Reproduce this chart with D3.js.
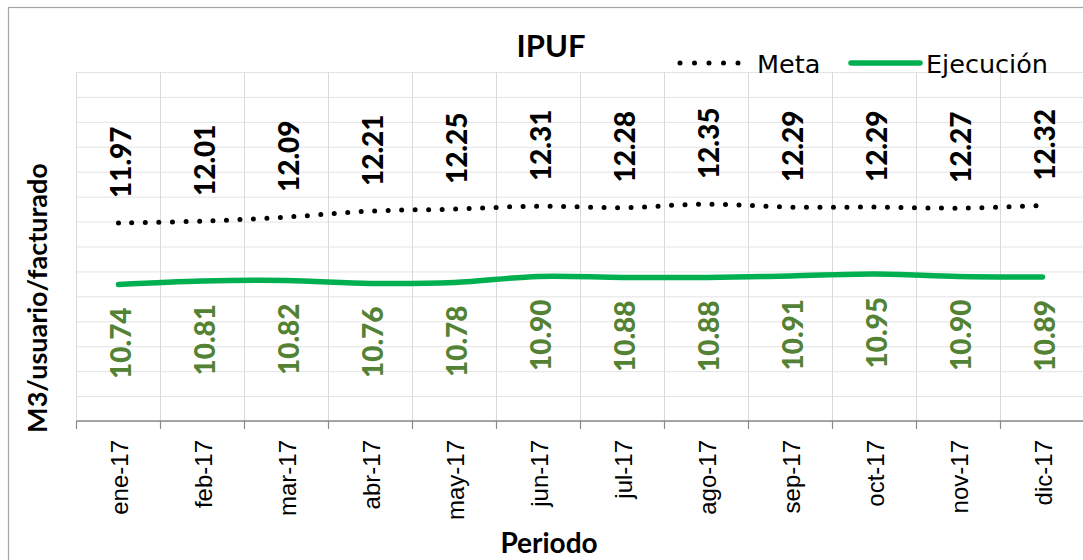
<!DOCTYPE html>
<html>
<head>
<meta charset="utf-8">
<script src="https://cdn.jsdelivr.net/npm/d3@7"></script>
<style>
  html, body { margin: 0; padding: 0; background: #fff; }
  svg { display: block; }
</style>
</head>
<body>
<svg id="chart" width="1083" height="560"></svg>
<script>
// IPUF 2017: target (Meta) vs actual (Ejecución), m3 per billed user
const months = ["ene-17", "feb-17", "mar-17", "abr-17", "may-17", "jun-17",
                "jul-17", "ago-17", "sep-17", "oct-17", "nov-17", "dic-17"];
const meta = [11.97, 12.01, 12.09, 12.21, 12.25, 12.31, 12.28, 12.35, 12.29, 12.29, 12.27, 12.32];
const ejecucion = [10.74, 10.81, 10.82, 10.76, 10.78, 10.90, 10.88, 10.88, 10.91, 10.95, 10.90, 10.89];
const yTicks = d3.range(8, 15.01, 0.5);

const svg = d3.select("#chart");
const plot = { left: 76.5, right: 1084.5, top: 72, bottom: 421 };

const x = d3.scaleBand().domain(months).range([plot.left, plot.right]);
const y = d3.scaleLinear().domain([8, 15]).range([plot.bottom, plot.top]);
const cx = d => x(d) + x.bandwidth() / 2;

// chart frame
svg.append("rect")
  .attr("x", 8.5).attr("y", 7.5).attr("width", 1090).attr("height", 570)
  .attr("fill", "#fff").attr("stroke", "#a6a6a6").attr("stroke-width", 1.2);

// horizontal gridlines
svg.append("g")
  .call(d3.axisLeft(y).tickValues(yTicks).tickSize(-(plot.right - plot.left)).tickFormat(""))
  .attr("transform", `translate(${plot.left},0)`)
  .call(g => g.select(".domain").remove())
  .call(g => g.selectAll("line").attr("stroke", "#e3e3e3").attr("stroke-width", 1));

// vertical gridlines at category boundaries
const bounds = months.map(m => x(m)).concat([plot.right]);
svg.append("g").selectAll("line").data(bounds).join("line")
  .attr("x1", d => d).attr("x2", d => d)
  .attr("y1", plot.top).attr("y2", plot.bottom)
  .attr("stroke", "#d9d9d9").attr("stroke-width", 1);

// x axis with boundary ticks
const xAxis = svg.append("g").attr("transform", `translate(0,${plot.bottom})`);
xAxis.append("line")
  .attr("x1", plot.left).attr("x2", plot.right)
  .attr("stroke", "#8a8a8a").attr("stroke-width", 1.6);
xAxis.selectAll("line.tk").data(bounds).join("line").attr("class", "tk")
  .attr("x1", d => d).attr("x2", d => d).attr("y1", 0).attr("y2", 8)
  .attr("stroke", "#8a8a8a").attr("stroke-width", 1.2);
xAxis.selectAll("text").data(months).join("text")
  .attr("transform", d => `translate(${cx(d) + 1},19) rotate(-90)`)
  .attr("text-anchor", "end")
  .attr("dominant-baseline", "central")
  .attr("font-family", "'Liberation Sans', Arial, sans-serif")
  .attr("font-size", 24)
  .attr("fill", "#000")
  .text(d => d);

// series lines
const line = d3.line().x((d, i) => cx(months[i])).y(d => y(d)).curve(d3.curveCatmullRom);

svg.append("path").datum(ejecucion)
  .attr("d", line).attr("fill", "none")
  .attr("stroke", "#00b050").attr("stroke-width", 5.5).attr("stroke-linecap", "round");

svg.append("path").datum(meta)
  .attr("d", line).attr("fill", "none")
  .attr("stroke", "#000").attr("stroke-width", 5)
  .attr("stroke-linecap", "round").attr("stroke-dasharray", "0 13.5");

// data labels
const labelFont = "Lato, 'Open Sans', sans-serif";
svg.append("g").selectAll("text").data(meta).join("text")
  .attr("transform", (d, i) => `translate(${cx(months[i]) + 1},${y(d) - 25}) rotate(-90)`)
  .attr("text-anchor", "start").attr("dominant-baseline", "central")
  .attr("font-family", labelFont).attr("font-weight", 900).attr("font-size", 28)
  .attr("fill", "#000")
  .text(d => d.toFixed(2));

svg.append("g").selectAll("text").data(ejecucion).join("text")
  .attr("transform", (d, i) => `translate(${cx(months[i]) + 1},${y(d) + 23}) rotate(-90)`)
  .attr("text-anchor", "end").attr("dominant-baseline", "central")
  .attr("font-family", labelFont).attr("font-weight", 900).attr("font-size", 28)
  .attr("fill", "#548235")
  .text(d => d.toFixed(2));

// title and axis titles
svg.append("text")
  .attr("x", 551).attr("y", 57).attr("text-anchor", "middle")
  .attr("font-family", labelFont).attr("font-weight", "bold").attr("font-size", 31)
  .text("IPUF");

svg.append("text")
  .attr("x", 549).attr("y", 553).attr("text-anchor", "middle")
  .attr("font-family", labelFont).attr("font-weight", "bold").attr("font-size", 28)
  .text("Periodo");

svg.append("text")
  .attr("transform", "translate(36,298) rotate(-90)")
  .attr("text-anchor", "middle").attr("dominant-baseline", "central")
  .attr("font-family", labelFont).attr("font-weight", "bold").attr("font-size", 27)
  .text("M3/usuario/facturado");

// legend
const legendFont = "'DejaVu Sans', sans-serif";
const legend = svg.append("g");
legend.append("line")
  .attr("x1", 680).attr("x2", 740).attr("y1", 63).attr("y2", 63)
  .attr("stroke", "#000").attr("stroke-width", 5)
  .attr("stroke-linecap", "round").attr("stroke-dasharray", "0 14.5");
legend.append("text")
  .attr("x", 757).attr("y", 73)
  .attr("font-family", legendFont).attr("font-size", 25.5)
  .text("Meta");
legend.append("line")
  .attr("x1", 851).attr("x2", 920).attr("y1", 63).attr("y2", 63)
  .attr("stroke", "#00b050").attr("stroke-width", 5.5).attr("stroke-linecap", "round");
legend.append("text")
  .attr("x", 926).attr("y", 73)
  .attr("font-family", legendFont).attr("font-size", 25.5)
  .text("Ejecución");
</script>
</body>
</html>
